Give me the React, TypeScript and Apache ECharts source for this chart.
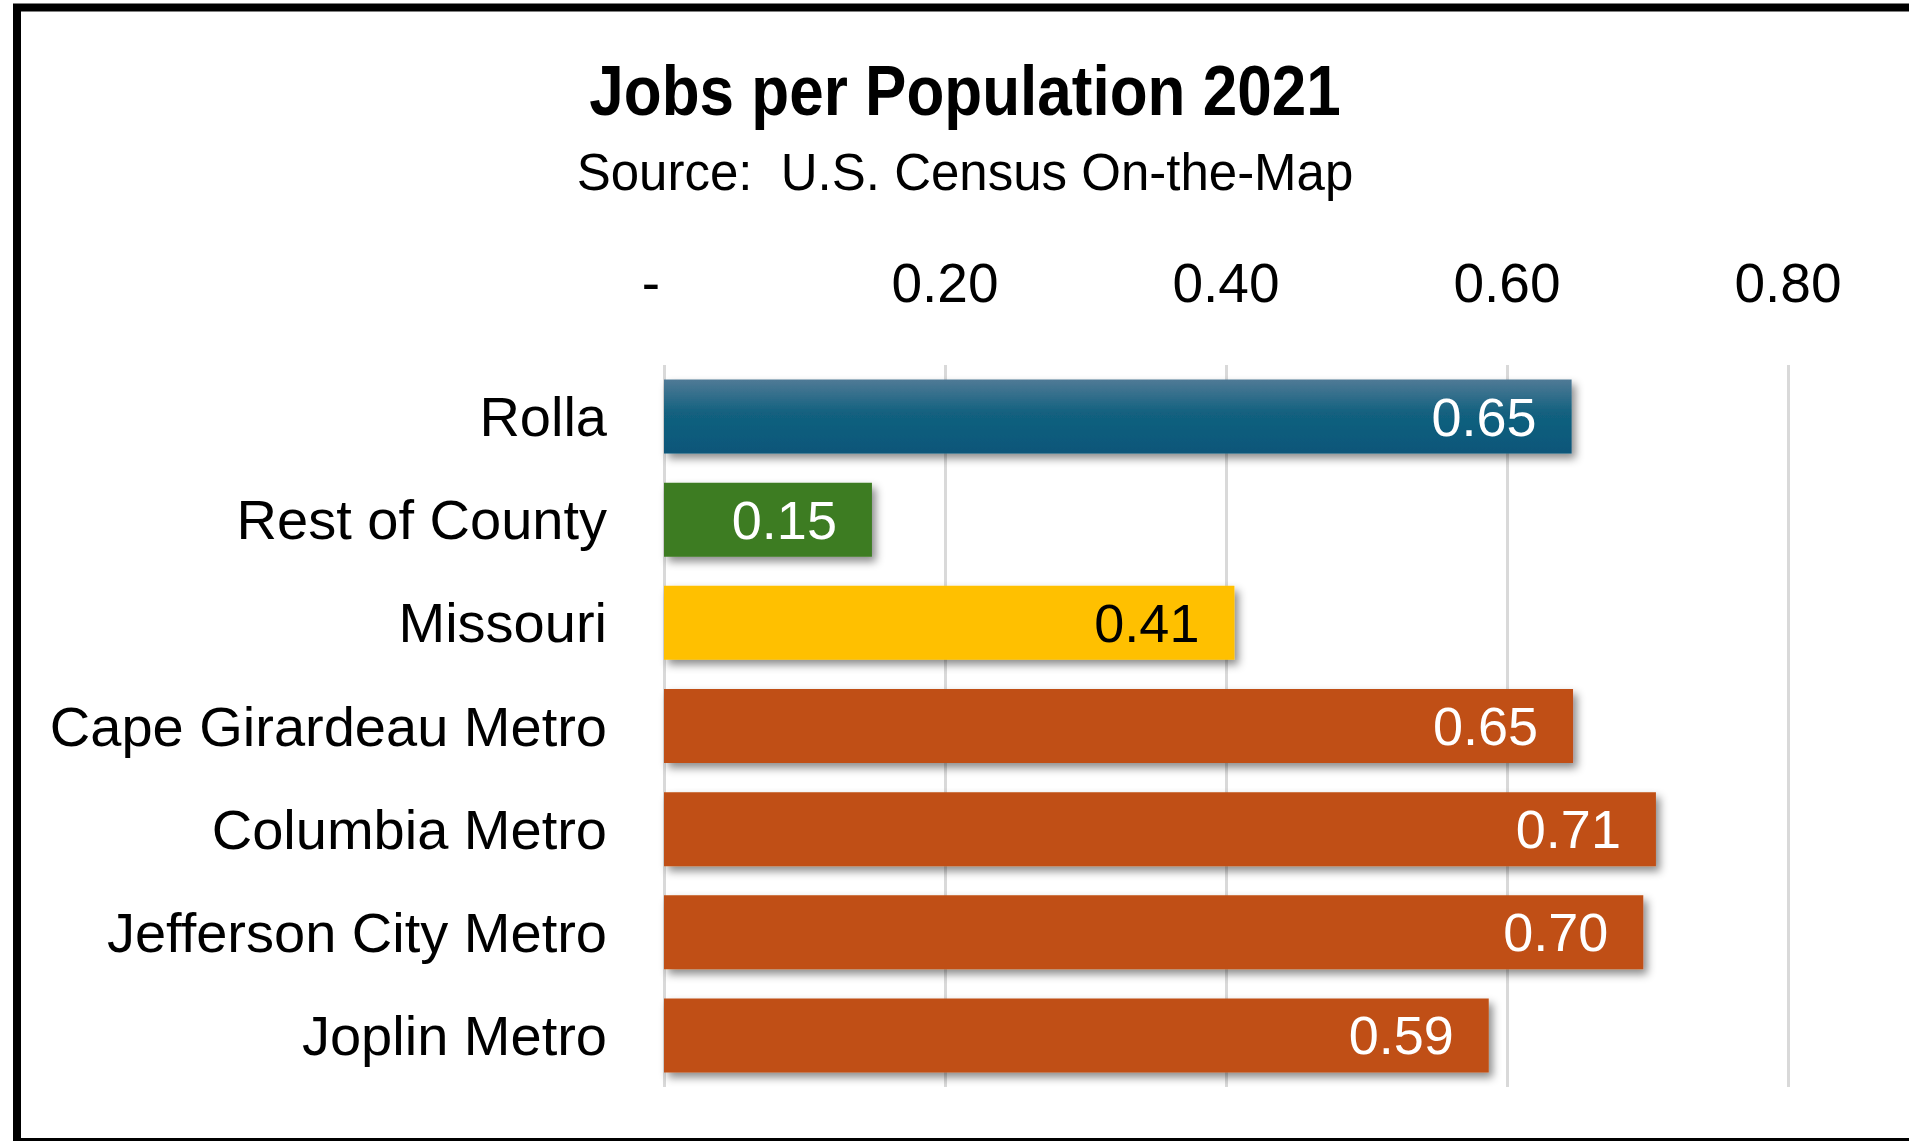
import React, { useEffect, useRef } from "react";
import * as echarts from "echarts";

const titleText = "Jobs per Population 2021";
const subtitleText = "Source:  U.S. Census On-the-Map";
const categories = [
  "Rolla",
  "Rest of County",
  "Missouri",
  "Cape Girardeau Metro",
  "Columbia Metro",
  "Jefferson City Metro",
  "Joplin Metro",
];
const values = [0.646, 0.148, 0.406, 0.647, 0.706, 0.697, 0.587];
const xTicks = [0, 0.2, 0.4, 0.6, 0.8];
const barColors = [
  "rolla",
  "#3e7b24",
  "#ffc000",
  "#c05016",
  "#c05016",
  "#c05016",
  "#c05016",
];
const labelColors = ["#ffffff", "#ffffff", "#000000", "#ffffff", "#ffffff", "#ffffff", "#ffffff"];

const FONT = "'Liberation Sans', Arial, sans-serif";

export default function App() {
  const ref = useRef<HTMLDivElement>(null);
  useEffect(() => {
    if (!ref.current) return;
    const chart = echarts.init(ref.current, undefined, { renderer: "svg" });
    const rollaGradient = new echarts.graphic.LinearGradient(0, 0, 0, 1, [
      { offset: 0, color: "#507a96" },
      { offset: 0.45, color: "#12617f" },
      { offset: 1, color: "#0b5679" },
    ]);
    const data = values.map((v, i) => ({
      value: v,
      itemStyle: {
        color: barColors[i] === "rolla" ? rollaGradient : barColors[i],
      },
      label: { color: labelColors[i] },
    }));
    chart.setOption({
      animation: false,
      backgroundColor: "#ffffff",
      grid: { left: 664, right: 121, top: 365, bottom: 54, containLabel: false },
      xAxis: {
        type: "value",
        position: "top",
        min: xTicks[0],
        max: xTicks[xTicks.length - 1],
        interval: 0.2,
        axisLine: { show: false },
        axisTick: { show: false },
        axisLabel: {
          fontSize: 55,
          fontFamily: FONT,
          color: "#000",
          margin: 55,
          formatter: (v: number) => (v === 0 ? "{dash|-}" : v.toFixed(2)),
          rich: {
            dash: {
              fontSize: 55,
              fontFamily: FONT,
              color: "#000",
              padding: [0, 26, 0, 0],
            },
          },
        },
        splitLine: { show: true, lineStyle: { color: "#d9d9d9", width: 3 } },
      },
      yAxis: {
        type: "category",
        data: categories,
        inverse: true,
        axisLine: { show: false },
        axisTick: { show: false },
        axisLabel: { fontSize: 56, fontFamily: FONT, color: "#000", margin: 57 },
        splitLine: { show: false },
      },
      series: [
        {
          type: "bar",
          data,
          barWidth: 74,
          itemStyle: {
            shadowColor: "rgba(0,0,0,0.45)",
            shadowBlur: 8,
            shadowOffsetX: 4,
            shadowOffsetY: 5,
          },
          label: {
            show: true,
            position: "insideRight",
            distance: 35,
            fontSize: 54,
            fontFamily: FONT,
            formatter: (p: any) => (p.value as number).toFixed(2),
          },
        },
      ],
      graphic: [
        {
          type: "text",
          x: 965,
          y: 91,
          scaleX: 0.886,
          style: {
            text: titleText,
            font: `bold 70px ${FONT}`,
            fill: "#000",
            textAlign: "center",
            textVerticalAlign: "middle",
          },
        },
        {
          type: "text",
          x: 965,
          y: 172,
          style: {
            text: subtitleText,
            font: `51px ${FONT}`,
            fill: "#000",
            textAlign: "center",
            textVerticalAlign: "middle",
          },
        },
        {
          type: "rect",
          shape: { x: 17, y: 7.5, width: 2000, height: 1134.5 },
          style: { fill: "none", stroke: "#000", lineWidth: 8 },
          z: 100,
        },
      ],
    });
    return () => chart.dispose();
  }, []);
  return (
    <div
      ref={ref}
      style={{ position: "fixed", left: 0, top: 0, width: 1909, height: 1141 }}
    />
  );
}
